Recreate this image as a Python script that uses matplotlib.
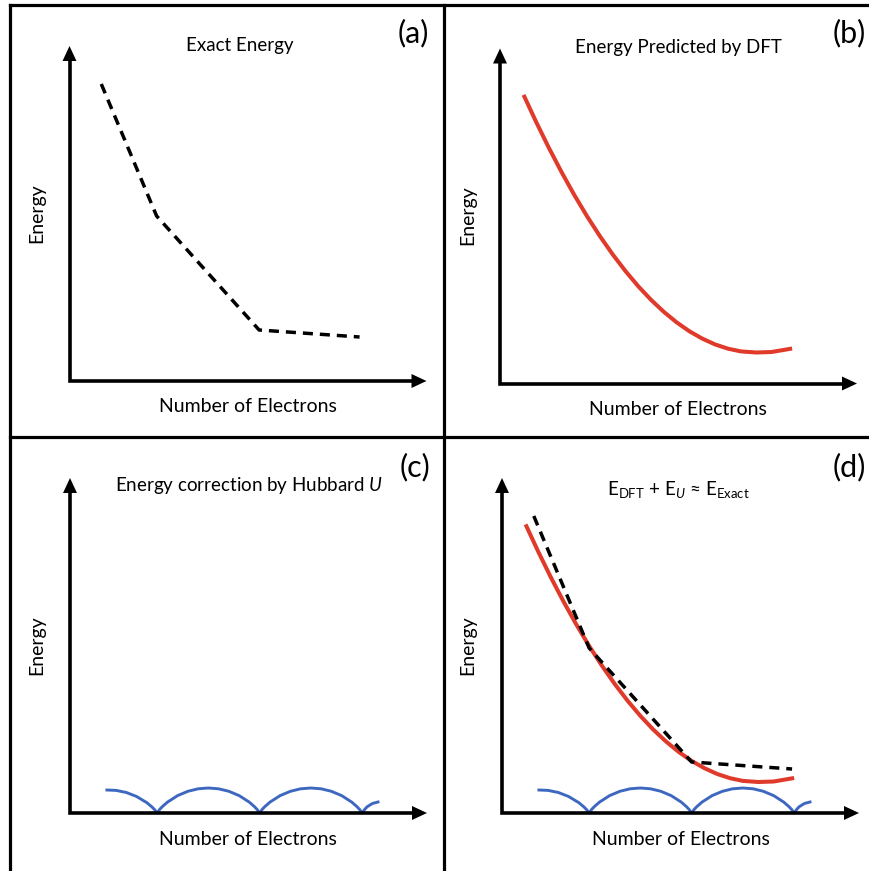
import matplotlib
matplotlib.use("Agg")
import matplotlib.pyplot as plt
from matplotlib.lines import Line2D

plt.rcParams['font.family'] = ['Lato', 'DejaVu Sans']
plt.rcParams['mathtext.fontset'] = 'custom'
plt.rcParams['mathtext.rm'] = 'Lato'
plt.rcParams['mathtext.it'] = 'Lato:italic'
plt.rcParams['mathtext.bf'] = 'Lato:bold'

# ---------------- data ----------------
# Exact energy: piecewise linear with kinks at integer electron numbers
exact_N = [0.46, 1.0, 2.0, 2.98]
exact_E = [2.97, 1.65, 0.51, 0.44]

# DFT energy: smooth convex curve
dft_N = [0.38, 0.5, 0.625, 0.75, 0.875, 1.0, 1.125, 1.25, 1.375, 1.5, 1.625,
         1.75, 1.875, 2.0, 2.125, 2.25, 2.375, 2.5, 2.65, 2.8, 3.0]
dft_E = [2.886, 2.621, 2.360, 2.115, 1.885, 1.671, 1.473, 1.290, 1.123, 0.971,
         0.835, 0.715, 0.610, 0.521, 0.448, 0.390, 0.348, 0.321, 0.310, 0.315, 0.350]

# Hubbard U correction: scallops with cusps at integer electron numbers
hub_N = [0.51, 0.6, 0.7, 0.8, 0.9, 0.95, 0.975, 1.0,
         1.025, 1.05, 1.1, 1.2, 1.3, 1.4, 1.5, 1.6, 1.7, 1.8, 1.9, 1.95, 1.975, 2.0,
         2.025, 2.05, 2.1, 2.2, 2.3, 2.4, 2.5, 2.6, 2.7, 2.8, 2.9, 2.95, 2.975, 3.0,
         3.025, 3.05, 3.1, 3.155]
hub_E = [0.230, 0.226, 0.205, 0.165, 0.103, 0.060, 0.034, 0.0,
         0.036, 0.063, 0.108, 0.174, 0.217, 0.242, 0.250, 0.242, 0.217, 0.174, 0.108, 0.063, 0.036, 0.0,
         0.036, 0.063, 0.108, 0.174, 0.217, 0.242, 0.250, 0.242, 0.217, 0.174, 0.108, 0.063, 0.036, 0.0,
         0.036, 0.063, 0.095, 0.110]

panel_labels = ['(a)', '(b)', '(c)', '(d)']
titles = ['Exact Energy', 'Energy Predicted by DFT',
          r'Energy correction by Hubbard $U$',
          r'E$_{\mathrm{DFT}}$ + E$_{U}$ ≈ E$_{\mathrm{Exact}}$']
xlabel = 'Number of Electrons'
ylabel = 'Energy'

RED = '#e03a2b'
BLUE = '#3e68c0'

# ---------------- layout ----------------
W, H = 870, 871
fig = plt.figure(figsize=(W / 100, H / 100), dpi=100)
fig.patch.set_facecolor('white')


def fx(x):
    return x / W


def fy(y):
    return 1 - y / H


X0 = 0.15
PX_PER_N = 102.5
PX_PER_E = 100.0
AX_W, AX_H = 357, 335
XTIP = X0 + AX_W / PX_PER_N
YTIP = AX_H / PX_PER_E


def make_axes(ox, oy):
    ax = fig.add_axes([ox / W, 1 - oy / H, AX_W / W, AX_H / H])
    ax.set_xlim(X0, XTIP)
    ax.set_ylim(0, YTIP)
    ax.axis('off')
    hx = 15 / PX_PER_N
    hy = 15 / PX_PER_E
    ax.plot([X0, X0, XTIP - hx + 0.01], [YTIP - hy + 0.01, 0, 0], color='k', lw=2.6,
            solid_joinstyle='miter', solid_capstyle='butt', clip_on=False, zorder=3)
    ax.fill([XTIP - hx, XTIP, XTIP - hx], [-0.07, 0, 0.07], color='k', lw=0,
            clip_on=False, zorder=3)
    ax.fill([X0 - 0.068, X0, X0 + 0.068], [YTIP - hy, YTIP, YTIP - hy], color='k',
            lw=0, clip_on=False, zorder=3)
    return ax


origins = [(69.5, 381), (500, 383.5), (70, 813), (502, 813)]
axes = [make_axes(*o) for o in origins]

dash = (0, (2.9, 2.0))
# (a)
axes[0].plot(exact_N, exact_E, color='k', lw=2.5, ls=dash, clip_on=False)
# (b)
axes[1].plot(dft_N, dft_E, color=RED, lw=2.9, clip_on=False, solid_capstyle='butt')
# (c)
axes[2].plot(hub_N, hub_E, color=BLUE, lw=2.1, clip_on=False)
# (d)
axes[3].plot(hub_N, hub_E, color=BLUE, lw=2.1, clip_on=False)
axes[3].plot(dft_N, dft_E, color=RED, lw=2.9, clip_on=False, solid_capstyle='butt')
axes[3].plot(exact_N, exact_E, color='k', lw=2.5, ls=dash, clip_on=False)

# ---------------- texts ----------------
title_pos = [(240, 45), (678, 47), (249, 485), (678, 490)]
label_pos = [(398, 33), (833, 33), (400, 467), (833, 467)]
ylab_pos = [(37, 213), (468, 215), (37, 645), (468, 645)]
xlab_pos = [(248, 406), (678, 409), (248, 839), (681, 839)]

for i in range(4):
    fig.text(fx(title_pos[i][0]), fy(title_pos[i][1]), titles[i], ha='center',
             va='center', fontsize=13.5)
    fig.text(fx(label_pos[i][0]), fy(label_pos[i][1]), panel_labels[i], ha='left',
             va='center', fontsize=22)
    fig.text(fx(ylab_pos[i][0]), fy(ylab_pos[i][1]), ylabel, ha='center',
             va='center', fontsize=14, rotation=90)
    fig.text(fx(xlab_pos[i][0]), fy(xlab_pos[i][1]), xlabel, ha='center',
             va='center', fontsize=14)

# ---------------- panel borders ----------------
blw = 2.3
for xs, ys in [([10.5, 10.5], [5.5, 875]), ([444, 444], [5.5, 875]),
               ([10.5, 875], [5.5, 5.5]), ([10.5, 875], [437, 437])]:
    fig.add_artist(Line2D([fx(v) for v in xs], [fy(v) for v in ys], color='k',
                          lw=blw, solid_capstyle='projecting'))

fig.savefig('out.png', dpi=100, facecolor='white')
